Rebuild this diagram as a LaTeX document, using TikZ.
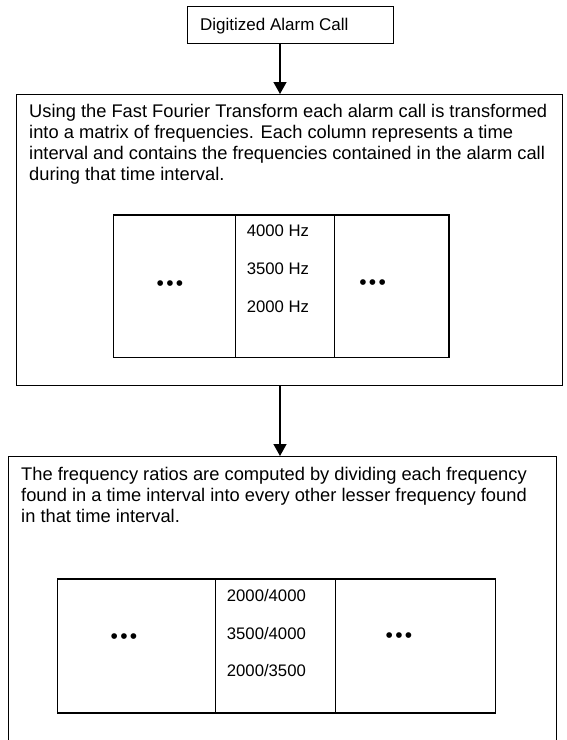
\documentclass[tikz,border=0pt]{standalone}
\usepackage{fontspec}
\setmainfont{Liberation Sans}
\usetikzlibrary{arrows.meta}
\tikzset{
  frame/.style={draw=black, line width=1.4pt, inner sep=0pt, anchor=north west, fill=none},
  cell/.style={draw=black, line width=1.4pt, inner sep=0pt, anchor=north west},
  para/.style={anchor=base west, inner sep=0pt, align=left,
    font=\fontsize{18.3}{21}\selectfont},
  freq/.style={anchor=base west, inner sep=0pt, font=\fontsize{16.7}{19}\selectfont},
  dots/.style={inner sep=0pt, font=\fontsize{21}{21}\selectfont},
  flow/.style={line width=1.4pt, -{Triangle[length=12pt,width=13pt]}}
}
\begin{document}
\begin{tikzpicture}[x=1pt,y=-1pt]
\useasboundingbox (0,0) rectangle (567,740);
% top box
\node[frame, minimum width=206pt, minimum height=37pt] (top) at (187,6) {};
\node[anchor=base west, inner sep=0pt, font=\fontsize{17}{20}\selectfont] (toptext) at (200,30) {Digitized Alarm Call};
% box 2
\node[frame, minimum width=546pt, minimum height=291pt] (box2) at (16,94) {};
\node[para] (text2) at (29,180.5) {Using the Fast Fourier Transform each alarm call is transformed\\into a matrix of frequencies. Each column represents a time\\interval and contains the frequencies contained in the alarm call\\during that time interval.};
\node[cell, minimum width=122pt, minimum height=142.5pt] (c2a) at (112.6,214.3) {};
\node[cell, minimum width=99.3pt, minimum height=142.5pt] (c2b) at (234.7,214.3) {};
\node[cell, minimum width=114.4pt, minimum height=142.5pt] (c2c) at (334,214.3) {};
\node[dots] (d2a) at (170,285.7) {•\kern2.3pt•\kern2.3pt•};
\node[dots] (d2c) at (372.6,284.3) {•\kern2.3pt•\kern2.3pt•};
\node[freq] (f2a) at (246.6,236.6) {4000 Hz};
\node[freq] (f2b) at (246.6,274.8) {3500 Hz};
\node[freq] (f2c) at (246.6,312.7) {2000 Hz};
% box 3
\node[frame, minimum width=548.3pt, minimum height=320pt] (box3) at (7.7,456) {};
\node[para] (text3) at (21,522) {The frequency ratios are computed by dividing each frequency\\found in a time interval into every other lesser frequency found\\in that time interval.};
\node[cell, minimum width=157.8pt, minimum height=134pt] (c3a) at (57,578.3) {};
\node[cell, minimum width=119.9pt, minimum height=134pt] (c3b) at (214.8,578.3) {};
\node[cell, minimum width=159.9pt, minimum height=134pt] (c3c) at (334.7,578.3) {};
\node[dots] (d3a) at (124,639) {•\kern2.3pt•\kern2.3pt•};
\node[dots] (d3c) at (399,638) {•\kern2.3pt•\kern2.3pt•};
\node[freq] (f3a) at (226.7,601.7) {2000/4000};
\node[freq] (f3b) at (226.7,639.3) {3500/4000};
\node[freq] (f3c) at (226.7,676.7) {2000/3500};
% connectors
\coordinate (ax) at (280,0);
\draw[flow] (top.south -| ax) -- (box2.north -| ax);
\draw[flow] (box2.south -| ax) -- (box3.north -| ax);
\end{tikzpicture}
\end{document}
